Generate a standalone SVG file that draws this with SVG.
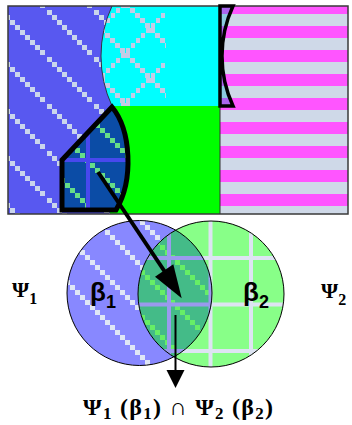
<svg xmlns="http://www.w3.org/2000/svg" width="352" height="425" viewBox="0 0 352 425">
<style>
.psi{font-family:"Liberation Serif","Times New Roman",serif;font-weight:bold;fill:#000}
.beta{font-family:"Liberation Sans",Arial,sans-serif;font-weight:bold;fill:#000}
.edge{fill:none;stroke:#000}
pattern rect{shape-rendering:crispEdges}
</style>
<defs>
<g id="diag9">
<rect x="0" y="0" width="5" height="5"/><rect x="5" y="5" width="5" height="5"/><rect x="10" y="10" width="5" height="5"/><rect x="15" y="15" width="5" height="5"/><rect x="20" y="20" width="5" height="5"/><rect x="25" y="25" width="5" height="5"/><rect x="30" y="30" width="5" height="5"/><rect x="35" y="35" width="5" height="5"/><rect x="40" y="40" width="5" height="5"/>
</g>
<pattern id="diagBig" patternUnits="userSpaceOnUse" x="0" y="10" width="47" height="47">
<use href="#diag9" fill="#cad5ec"/>
</pattern>
<pattern id="diagPent" patternUnits="userSpaceOnUse" x="0" y="28" width="45" height="45">
<use href="#diag9" fill="#66dd88"/>
</pattern>
<pattern id="diagC1" patternUnits="userSpaceOnUse" x="0" y="35" width="45" height="45">
<use href="#diag9" fill="#dfe6f6"/>
</pattern>
<pattern id="diagLens" patternUnits="userSpaceOnUse" x="0" y="40" width="45" height="45">
<use href="#diag9" fill="#66ee66"/>
</pattern>
<pattern id="lattice" patternUnits="userSpaceOnUse" x="0" y="28" width="50" height="50">
<g fill="#c4cce6"><rect x="0" y="0" width="4.5" height="4.5"/><rect x="5" y="5" width="4.5" height="4.5"/><rect x="10" y="10" width="4.5" height="4.5"/><rect x="15" y="15" width="4.5" height="4.5"/><rect x="20" y="20" width="4.5" height="4.5"/><rect x="25" y="25" width="4.5" height="4.5"/><rect x="30" y="30" width="4.5" height="4.5"/><rect x="35" y="35" width="4.5" height="4.5"/><rect x="40" y="40" width="4.5" height="4.5"/><rect x="45" y="45" width="4.5" height="4.5"/>
<rect x="45.5" y="0" width="4.5" height="4.5"/><rect x="40.5" y="5" width="4.5" height="4.5"/><rect x="35.5" y="10" width="4.5" height="4.5"/><rect x="30.5" y="15" width="4.5" height="4.5"/><rect x="25.5" y="20" width="4.5" height="4.5"/><rect x="20.5" y="25" width="4.5" height="4.5"/><rect x="15.5" y="30" width="4.5" height="4.5"/><rect x="10.5" y="35" width="4.5" height="4.5"/><rect x="5.5" y="40" width="4.5" height="4.5"/><rect x="0.5" y="45" width="4.5" height="4.5"/></g>
</pattern>
<pattern id="stripes" patternUnits="userSpaceOnUse" x="0" y="2" width="10" height="24">
<rect x="0" y="0" width="10" height="12" fill="#ff55ff"/><rect x="0" y="12" width="10" height="12" fill="#cfd9e8"/>
</pattern>
<pattern id="stripesP" patternUnits="userSpaceOnUse" x="0" y="2" width="10" height="24">
<rect x="0" y="0" width="10" height="12" fill="#aa66ee"/><rect x="0" y="12" width="10" height="12" fill="#8ccbe0"/>
</pattern>
<clipPath id="latClip"><path d="M112,6 A119,119 0 0 0 112,106 L166,106 L166,6 Z"/></clipPath>
<clipPath id="pentClip"><path d="M62,160 L112,107 C131,130 134,180 116,210 L62,210 Z"/></clipPath>
<clipPath id="c1Clip"><circle cx="139.5" cy="293" r="72.5"/></clipPath>
<clipPath id="c2Clip"><circle cx="211" cy="294" r="73"/></clipPath>
</defs>

<g id="plane">
<rect x="8" y="6" width="212" height="208" fill="#5858f0"/>
<rect x="8" y="6" width="212" height="208" fill="url(#diagBig)"/>
<path d="M112,6 A119,119 0 0 0 112,106 L220,106 L220,6 Z" fill="#00ffff"/>
<rect x="100" y="6" width="70" height="100" fill="url(#lattice)" clip-path="url(#latClip)"/>
<path d="M112,6 A119,119 0 0 0 112,106" fill="none" stroke="#334" stroke-width="1"/>
<rect x="110" y="106" width="110" height="108" fill="#00ff00"/>
<rect x="220" y="6" width="128" height="208" fill="url(#stripes)"/>
<path d="M220,6 L233,6 A119,119 0 0 0 233,106 L220,106 Z" fill="url(#stripesP)"/>
<path d="M233,6 A119,119 0 0 1 233,106 L348,106 L348,6 Z" fill="url(#stripes)"/>
<line x1="220" y1="106" x2="220" y2="214" stroke="#333" stroke-width="1"/>
<rect x="8" y="6" width="340" height="208" fill="none" stroke="#3a3a3a" stroke-width="1.5"/>
</g>

<g id="shift-region">
<path d="M220,6 L233,6 A119,119 0 0 0 233,106 L220,106 Z" class="edge" stroke-width="3.5"/>
</g>

<g id="pentagon">
<g clip-path="url(#pentClip)">
<rect x="55" y="100" width="85" height="115" fill="#0b4ca6"/>
<rect x="55" y="100" width="85" height="115" fill="url(#diagPent)"/>
<rect x="86" y="100" width="4" height="115" fill="#4848ee"/>
<rect x="55" y="158" width="85" height="4" fill="#4848ee"/>
</g>
<path d="M62,160 L112,107 C131,130 134,180 116,210 L62,210 Z" class="edge" stroke-width="5" stroke-linejoin="miter"/>
</g>

<g id="circle-psi1">
<circle cx="139.5" cy="293" r="72.5" fill="#8888ff"/>
<circle cx="139.5" cy="293" r="72.5" fill="url(#diagC1)"/>
</g>

<g id="circle-psi2">
<circle cx="211" cy="294" r="73" fill="#88ff88"/>
<g clip-path="url(#c2Clip)" fill="#dde4f2">
<rect x="208.5" y="215" width="4" height="160"/>
<rect x="249" y="215" width="4" height="160"/>
<rect x="135" y="256" width="160" height="4"/>
<rect x="135" y="302.5" width="160" height="4"/>
<rect x="135" y="349" width="160" height="4"/>
</g>
</g>

<g id="intersection">
<g clip-path="url(#c1Clip)">
<g clip-path="url(#c2Clip)">
<rect x="130" y="215" width="90" height="160" fill="#44bb88"/>
<rect x="130" y="215" width="90" height="160" fill="url(#diagLens)"/>
<g fill="#9a9aee">
<rect x="167" y="215" width="4" height="160"/>
<rect x="208.5" y="215" width="4" height="160"/>
<rect x="130" y="256" width="90" height="4"/>
<rect x="130" y="302.5" width="90" height="4"/>
<rect x="130" y="349" width="90" height="4"/>
</g>
</g>
</g>
<circle cx="139.5" cy="293" r="72.5" class="edge" stroke-width="1"/>
<circle cx="211" cy="294" r="73" class="edge" stroke-width="1"/>
</g>

<g id="connectors">
<line x1="98" y1="172" x2="165" y2="272" stroke="#000" stroke-width="4"/>
<polygon points="181.7,298.3 155,276.7 173.3,264.3" fill="#000"/>
<line x1="175.5" y1="315" x2="175.5" y2="372" stroke="#000" stroke-width="2"/>
<polygon points="166.5,370 184.5,370 175.5,388" fill="#000"/>
</g>

<g id="labels">
<text class="psi" x="12" y="297" font-size="22">Ψ<tspan font-size="16" dy="7">1</tspan></text>
<text class="psi" x="321" y="298" font-size="22">Ψ<tspan font-size="16" dy="7">2</tspan></text>
<text class="beta" x="90" y="301" font-size="26">β<tspan font-size="18" dy="7">1</tspan></text>
<text class="beta" x="243" y="301" font-size="26">β<tspan font-size="18" dy="7">2</tspan></text>
<text class="psi" x="83" y="415" font-size="24" textLength="190" lengthAdjust="spacing">Ψ<tspan font-size="17" dy="4">1</tspan><tspan dy="-4"> (β</tspan><tspan font-size="17" dy="4">1</tspan><tspan dy="-4">) ∩ Ψ</tspan><tspan font-size="17" dy="4">2</tspan><tspan dy="-4"> (β</tspan><tspan font-size="17" dy="4">2</tspan><tspan dy="-4">)</tspan></text>
</g>
</svg>
